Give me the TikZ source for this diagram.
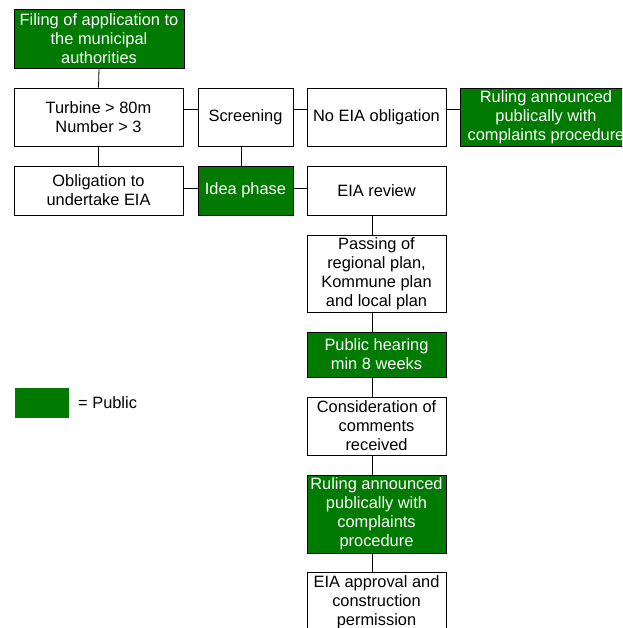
\documentclass[tikz,border=0pt]{standalone}
\usepackage{fontspec}
\setmainfont{Liberation Sans}
\definecolor{pubgreen}{RGB}{0,122,0}
\tikzset{
  casella/.style={draw=black, line width=0.8pt, align=center, inner sep=1pt,
    font=\fontsize{16.4}{19}\selectfont},
  pubblico/.style={casella, fill=pubgreen, text=white},
  linea/.style={draw=black, line width=0.8pt}
}
\begin{document}
\begin{tikzpicture}[x=1pt,y=1pt]
            \useasboundingbox[fill=white] (0,0) rectangle (622,-628);
            \clip (0,0) rectangle (622,-628);

            % Disegna le caselle
            \node[pubblico, minimum width=170pt, minimum height=59pt] (fil) at (99,-38.5) {Filing of application to\\the municipal\\authorities};
            \node[casella, minimum width=169pt, minimum height=58pt] (tur) at (98.5,-117) {Turbine > 80m\\Number > 3};
            \node[casella, minimum width=95pt, minimum height=58pt] (scr) at (245.5,-117) {Screening};
            \node[casella, minimum width=139pt, minimum height=58pt] (noeia) at (376.5,-117) {No EIA obligation};
            \node[pubblico, minimum width=172pt, minimum height=58pt] (rul1) at (546,-117) {Ruling announced\\publically with\\complaints procedure};
            \node[casella, minimum width=169pt, minimum height=49pt] (obl) at (98.5,-190.5) {Obligation to\\undertake EIA};
            \node[pubblico, minimum width=95pt, minimum height=49pt] (idea) at (245.5,-190.5) {Idea phase};
            \node[casella, minimum width=139pt, minimum height=49pt] (rev) at (376.5,-190.5) {EIA review};
            \node[casella, minimum width=139pt, minimum height=77pt] (pas) at (376.5,-273.5) {Passing of\\regional plan,\\Kommune plan\\and local plan};
            \node[pubblico, minimum width=139pt, minimum height=45pt] (hear) at (376.5,-354.5) {Public hearing\\min 8 weeks};
            \node[casella, minimum width=139pt, minimum height=58pt] (cons) at (376.5,-426) {Consideration of\\comments\\received};
            \node[pubblico, minimum width=139pt, minimum height=78pt] (rul2) at (376.5,-514) {Ruling announced\\publically with\\complaints\\procedure};
            \node[casella, minimum width=139pt, minimum height=60pt] (appr) at (376.5,-602) {EIA approval and\\construction\\permission};

            % Legenda
            \node[fill=pubgreen, minimum width=54pt, minimum height=30pt, inner sep=0pt] (leg) at (42,-403) {};
            \node[anchor=west, inner sep=0pt, font=\fontsize{16.4}{19}\selectfont] (legtxt) at (78,-403) {= Public};

            % Collega le caselle
            \draw[linea] (fil.south) -- (tur.north);
            \draw[linea] ([yshift=8pt]tur.east) -- ([yshift=8pt]scr.west);
            \draw[linea] ([yshift=8pt]scr.east) -- ([yshift=8pt]noeia.west);
            \draw[linea] ([yshift=8pt]noeia.east) -- ([yshift=8pt]rul1.west);
            \draw[linea] (tur.south) -- (obl.north);
            \draw[linea] ([xshift=-4pt]scr.south) -- ([xshift=-4pt]idea.north);
            \draw[linea] ([yshift=2pt]obl.east) -- ([yshift=2pt]idea.west);
            \draw[linea] ([yshift=2pt]idea.east) -- ([yshift=2pt]rev.west);
            \draw[linea] ([xshift=-4pt]rev.south) -- ([xshift=-4pt]pas.north);
            \draw[linea] ([xshift=-4pt]pas.south) -- ([xshift=-4pt]hear.north);
            \draw[linea] ([xshift=-4pt]hear.south) -- ([xshift=-4pt]cons.north);
            \draw[linea] ([xshift=-4pt]cons.south) -- ([xshift=-4pt]rul2.north);
            \draw[linea] ([xshift=-4pt]rul2.south) -- ([xshift=-4pt]appr.north);

        \end{tikzpicture}
\end{document}
